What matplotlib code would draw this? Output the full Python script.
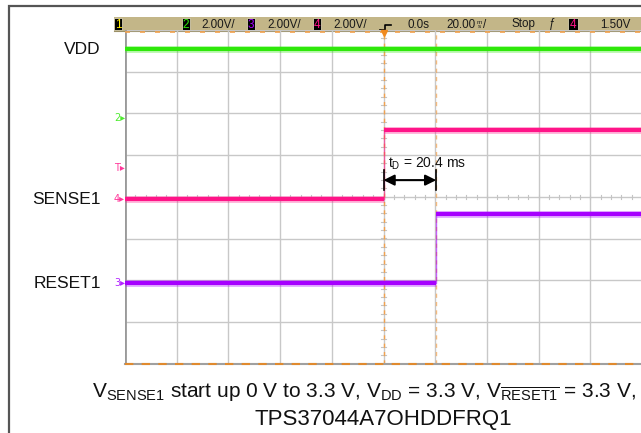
import numpy as np
import matplotlib.pyplot as plt
from matplotlib.patches import Rectangle

plt.rcParams['font.family'] = ['Liberation Sans', 'DejaVu Sans']
plt.rcParams['mathtext.fontset'] = 'custom'
plt.rcParams['mathtext.rm'] = 'Liberation Sans'
plt.rcParams['mathtext.it'] = 'Liberation Sans:italic'

# scope settings
volts_per_div = 2.0
ms_per_div = 20.0
n_xdiv, n_ydiv = 10, 8

# ground reference of each channel, in divisions from screen centre
vdd_offset = 1.90
sense_offset = -0.06
reset_offset = -2.06
trigger_level = 1.5

# captured waveforms (time in ms, level in V)
vdd_t = [-100, 100]
vdd_v = [3.3, 3.3]
sense_t = [-100, 0, 0, 100]
sense_v = [0.0, 0.0, 3.3, 3.3]
reset_t = [-100, 20.4, 20.4, 100]
reset_v = [0.0, 0.0, 3.3, 3.3]
delay_ms = 20.4

GREEN = '#2ee80a'
PINK = '#ff1488'
PURPLE = '#a600ff'
ORANGE = '#f2a24e'

W, H = 641, 433
fig = plt.figure(figsize=(W / 100, H / 100), dpi=100)

# background layer in pixel units
bg = fig.add_axes([0, 0, 1, 1])
bg.set_xlim(0, W)
bg.set_ylim(H, 0)
bg.axis('off')

# outer frame
bg.plot([8.5, 8.5, W], [H, 6, 6], color='#555555', lw=1.6, solid_joinstyle='miter')

# header bar
bg.add_patch(Rectangle((114, 17), W - 114, 14, facecolor='#c3b688', edgecolor='none'))
bg.plot([114, W], [31, 31], color='#9a8f66', lw=0.8)


def chan_box(x, label, color, w=8):
    bg.add_patch(Rectangle((x, 18), w, 12, facecolor='black', edgecolor='#d8d0b0', lw=0.6))
    bg.text(x + w / 2, 24.5, label, color=color, fontsize=8.5, ha='center', va='center')


chan_box(114, '1', '#ffee00')
chan_box(182, '2', GREEN)
bg.text(201, 24.5, '2.00V/', fontsize=8.4, va='center', color='#1a1a1a')
chan_box(247, '3', PURPLE)
bg.text(267, 24.5, '2.00V/', fontsize=8.4, va='center', color='#1a1a1a')
chan_box(313, '4', PINK)
bg.text(333, 24.5, '2.00V/', fontsize=8.4, va='center', color='#1a1a1a')
# trigger symbol
bg.plot([380, 385, 385, 391], [30, 30, 24.5, 24.5], color='black', lw=1.2)
bg.text(408, 24.5, '0.0s', fontsize=8.4, va='center', color='#1a1a1a')
bg.text(446, 24.5, '20.00', fontsize=8.4, va='center', color='#1a1a1a')
bg.text(479.5, 24.5, 'm\ns', fontsize=4.6, linespacing=0.95, ha='center', va='center',
        color='#1a1a1a')
bg.text(483, 24.5, '/', fontsize=8.4, va='center', color='#1a1a1a')
bg.text(511, 24.5, 'Stop', fontsize=8.4, va='center', color='#1a1a1a')
bg.text(549, 24.5, 'ƒ', fontsize=8.4, va='center', color='#1a1a1a')
chan_box(568, '4', PINK, w=10)
bg.text(600, 24.5, '1.50V', fontsize=8.4, va='center', color='#1a1a1a')

# signal names
for name, ypx in [('VDD', 49), ('SENSE1', 200), ('RESET1', 283)]:
    bg.text(101, ypx, name, fontsize=12.5, ha='right', va='center', color='#111111')

# caption
bg.text(92, 397, r'$\mathregular{V_{SENSE1}}$ start up 0 V to 3.3 V, '
        r'$\mathregular{V_{DD}}$ = 3.3 V, $\mathregular{V_{\overline{RESET1}}}$ = 3.3 V,',
        fontsize=15.0, ha='left', va='baseline', color='#111111')
bg.text(383, 424.5, 'TPS37044A7OHDDFRQ1', fontsize=16, ha='center', va='baseline',
        color='#111111')

# scope screen: x in ms, y in divisions
x0, y_top, px_x, px_y = 125, 30, 51.7, 41.7
ax = fig.add_axes([x0 / W, (H - y_top - n_ydiv * px_y) / H,
                   n_xdiv * px_x / W, n_ydiv * px_y / H])
half_t = n_xdiv / 2 * ms_per_div
ax.set_xlim(-half_t, half_t)
ax.set_ylim(-n_ydiv / 2, n_ydiv / 2)
ax.axis('off')

# graticule
for xv in np.arange(-half_t, half_t + 1, ms_per_div):
    ax.axvline(xv, color='#c8c8c8', lw=1, zorder=1)
for yv in np.arange(-n_ydiv / 2, n_ydiv / 2 + 0.1, 1):
    ax.axhline(yv, color='#c8c8c8', lw=1, zorder=1)
ax.axvline(-half_t, color='#9a9a9a', lw=2, zorder=2)
for xv in np.arange(-half_t, half_t, ms_per_div / 5):
    ax.plot([xv, xv], [-0.05, 0.05], color='#c4c4c4', lw=0.8, zorder=1)
for yv in np.arange(-n_ydiv / 2, n_ydiv / 2, 0.2):
    ax.plot([-0.8, 0.8], [yv, yv], color='#c4c4c4', lw=0.8, zorder=1)

# trigger position and delay cursor
ax.axvline(0, color=ORANGE, lw=1, dashes=(3, 3), zorder=2)
ax.axvline(delay_ms, color=ORANGE, lw=1, dashes=(3, 3), alpha=0.7, zorder=2)
ax.plot([-half_t, half_t], [-4, -4], color='#a0a0a0', lw=1.5, clip_on=False, zorder=3)
ax.plot([-half_t, half_t], [-4, -4], color='#e08a2e', lw=1.5, dashes=(4, 4),
        clip_on=False, zorder=3)
ax.plot([-half_t, half_t], [3.95, 3.95], color=ORANGE, lw=1.2, dashes=(3, 6),
        clip_on=False, zorder=3)
ax.plot([0], [3.93], marker='v', color='#f08a1e', ms=5, clip_on=False, zorder=4)


def draw_trace(t, v, offset, color):
    y = [offset + val / volts_per_div for val in v]
    ax.plot(t, y, color=color, lw=1, alpha=0.6, zorder=4)
    for i in range(len(t) - 1):
        if v[i] == v[i + 1]:
            seg_t = [t[i], t[i + 1]]
            seg_y = [y[i], y[i + 1]]
            ax.plot(seg_t, seg_y, color=color, lw=5, alpha=0.3,
                    solid_capstyle='butt', zorder=5)
            ax.plot(seg_t, seg_y, color=color, lw=3,
                    solid_capstyle='butt', zorder=6)


draw_trace(vdd_t, vdd_v, vdd_offset, GREEN)
draw_trace(sense_t, sense_v, sense_offset, PINK)
draw_trace(reset_t, reset_v, reset_offset, PURPLE)

# channel ground markers and trigger level
for lbl, off, col in [('2', vdd_offset, GREEN), ('4', sense_offset, PINK),
                      ('3', reset_offset, PURPLE)]:
    ax.text(-half_t, off, lbl + '▸', color=col, fontsize=7, ha='right', va='center',
            family=['DejaVu Sans'], clip_on=False, alpha=0.85)
ax.text(-half_t, sense_offset + trigger_level / volts_per_div, 'T▸', color=PINK,
        fontsize=7, ha='right', va='center', family=['DejaVu Sans'], clip_on=False,
        alpha=0.85)

# delay measurement
arrow_y = 0.4
ax.annotate('', xy=(delay_ms, arrow_y), xytext=(0, arrow_y),
            arrowprops=dict(arrowstyle='<|-|>', color='black', lw=1.5,
                            mutation_scale=16, shrinkA=0, shrinkB=0), zorder=7)
for xv in (0, delay_ms):
    ax.plot([xv, xv], [arrow_y - 0.24, arrow_y + 0.24], color='black', lw=1.2, zorder=7)
ax.text(1.9, 0.69, r'$\mathregular{t_D}$ = %.1f ms' % delay_ms, fontsize=10,
        va='baseline', color='#111111', zorder=7)

fig.savefig('out.png', dpi=100)
